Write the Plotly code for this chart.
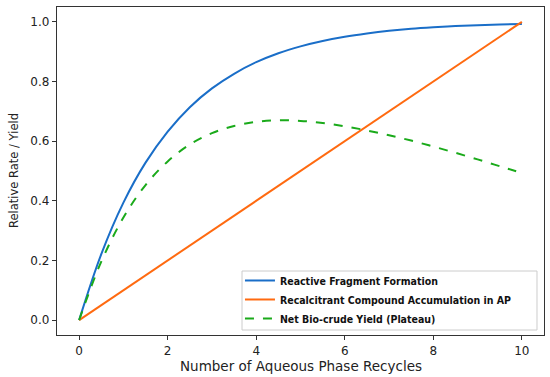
import plotly.graph_objects as go

x_vals = [0, 0.5, 1, 1.5, 2, 2.5, 3, 3.5, 4, 4.5, 5, 5.5, 6, 6.5, 7, 7.5, 8, 8.5, 9, 9.5, 10]
reactive = [0, 0.221, 0.394, 0.528, 0.632, 0.714, 0.777, 0.826, 0.865, 0.895, 0.918,
            0.936, 0.950, 0.961, 0.970, 0.977, 0.982, 0.986, 0.989, 0.991, 0.993]
recalc_x = [0, 10]
recalcitrant = [0, 1.0]
net_yield = [0, 0.196, 0.344, 0.453, 0.532, 0.589, 0.627, 0.651, 0.665, 0.670, 0.668,
             0.661, 0.650, 0.636, 0.620, 0.602, 0.582, 0.561, 0.539, 0.516, 0.493]

x_ticks = [0, 2, 4, 6, 8, 10]
y_ticks = [0.0, 0.2, 0.4, 0.6, 0.8, 1.0]
x_title = "Number of Aqueous Phase Recycles"
y_title = "Relative Rate / Yield"

fig = go.Figure()
fig.add_trace(go.Scatter(x=x_vals, y=reactive, mode="lines", name="Reactive Fragment Formation",
                         line=dict(color="#1a6ec8", width=2, shape="spline")))
fig.add_trace(go.Scatter(x=recalc_x, y=recalcitrant, mode="lines",
                         name="Recalcitrant Compound Accumulation in AP",
                         line=dict(color="#ff6a10", width=2)))
fig.add_trace(go.Scatter(x=x_vals, y=net_yield, mode="lines", name="Net Bio-crude Yield (Plateau)",
                         line=dict(color="#1aaa1a", width=2, dash="dash", shape="spline")))

axis_common = dict(showgrid=False, zeroline=False, showline=True, linecolor="#333333", linewidth=1.3,
                   mirror=True, ticks="outside", ticklen=4, tickcolor="#333333", automargin=False,
                   tickfont=dict(family="DejaVu Sans", size=12, color="#222222"))
fig.update_xaxes(range=[-0.5, 10.5], tickvals=x_ticks, ticktext=[str(t) for t in x_ticks],
                 **axis_common)
fig.update_yaxes(range=[-0.05, 1.05], tickvals=y_ticks, ticktext=[f"{t:.1f}" for t in y_ticks],
                 **axis_common)

fig.add_annotation(text=x_title, xref="paper", yref="paper", x=0.5, y=0.0,
                   yshift=-31, xanchor="center", yanchor="middle", showarrow=False,
                   font=dict(family="DejaVu Sans", size=13.5, color="#222222"))
fig.add_annotation(text=y_title, xref="paper", yref="paper", x=0, y=0.5, textangle=-90,
                   xshift=-43, xanchor="center", yanchor="middle", showarrow=False,
                   font=dict(family="DejaVu Sans", size=11.5, color="#222222"))

# legend frame
fig.add_shape(type="rect", xref="paper", yref="paper", x0=0.3799, x1=0.9856, y0=0.0152, y1=0.1951,
              line=dict(color="#cccccc", width=1), fillcolor="rgba(255,255,255,0.85)", layer="above")

fig.update_layout(
    width=550, height=377,
    margin=dict(l=57, r=6, t=7, b=42, autoexpand=False),
    plot_bgcolor="white", paper_bgcolor="white",
    legend=dict(x=0.3757, y=0.2104, xanchor="left", yanchor="top",
                bgcolor="rgba(0,0,0,0)", borderwidth=0,
                font=dict(family="DejaVu Sans Condensed", size=10.5,
                          color="#111111", weight="bold"),
                tracegroupgap=0, itemwidth=30),
    showlegend=True,
)

fig.write_html("out.html", config={"displayModeBar": False},
               post_script="document.body.style.margin='0';document.body.style.padding='0';")
